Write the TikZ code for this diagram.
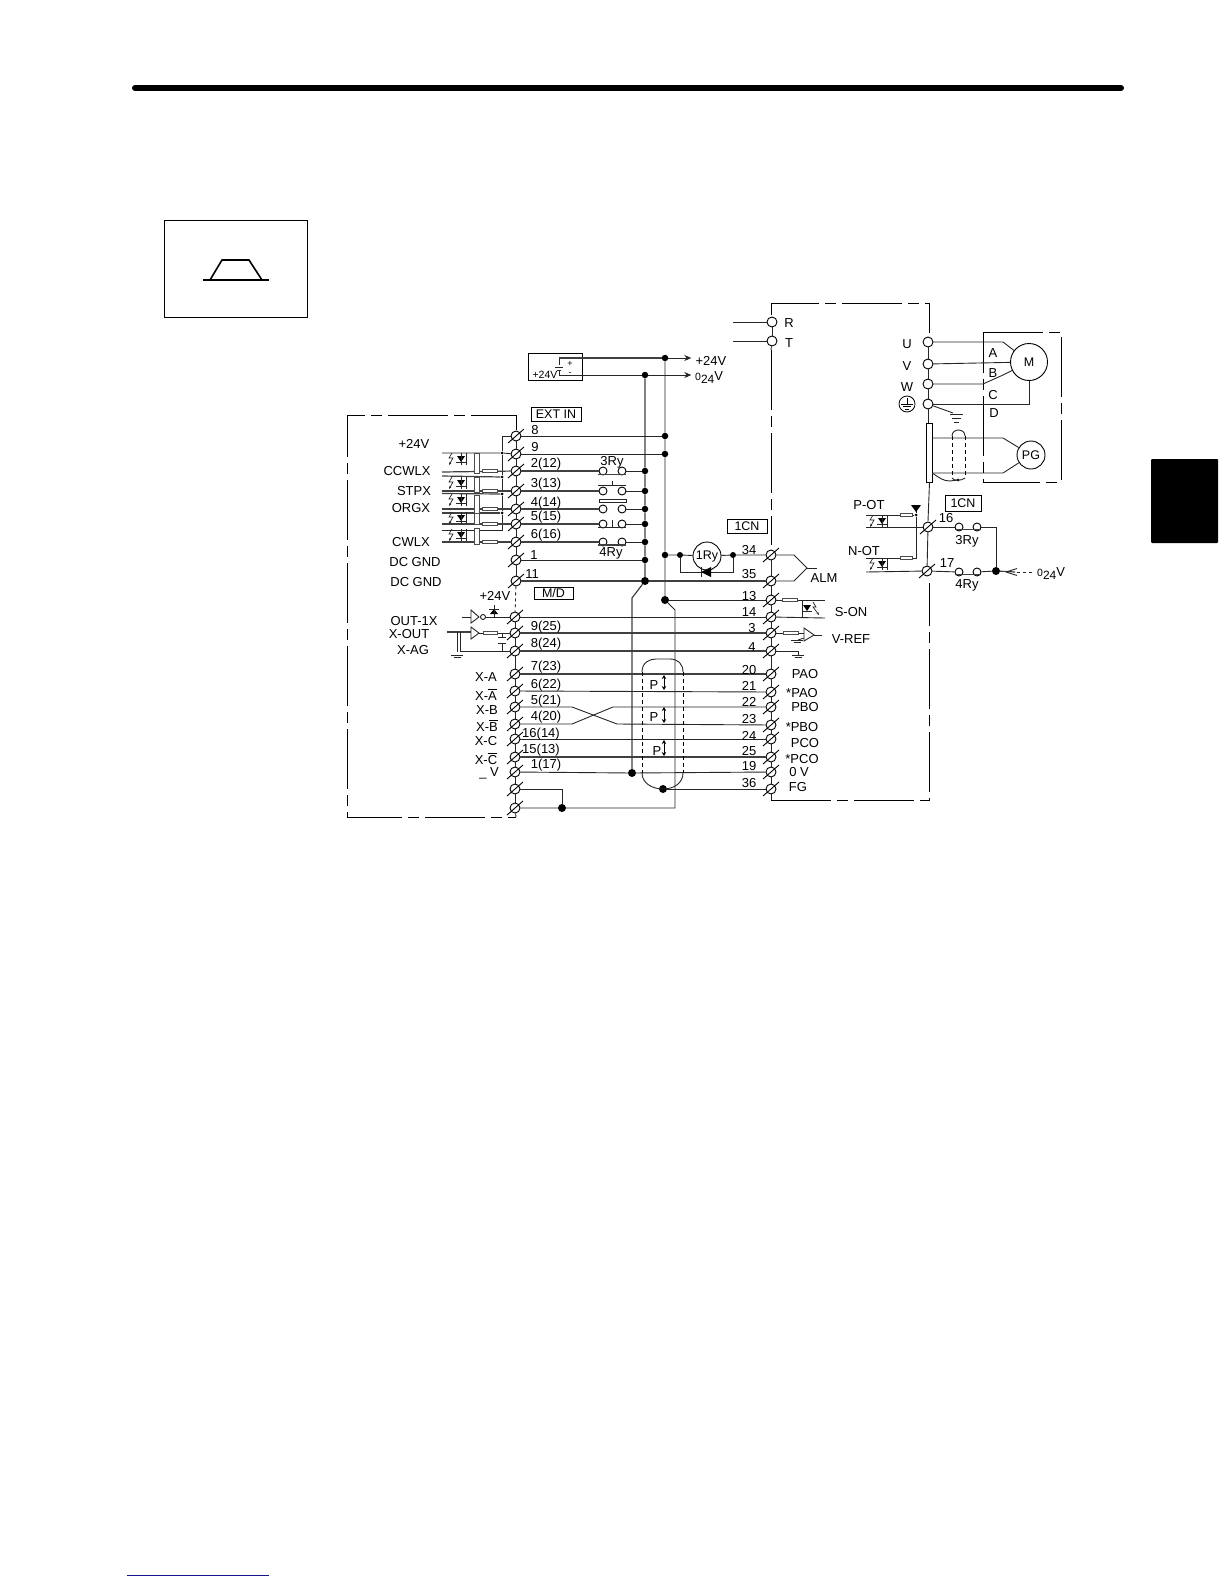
\documentclass[tikz,border=0pt]{standalone}
\usepackage{fontspec}
\setmainfont{Liberation Sans}
\usetikzlibrary{arrows.meta,calc}
\definecolor{navyline}{HTML}{14148C}
\newcounter{lbc}
\newcommand\lb[3]{\stepcounter{lbc}\node[lbl] (T\thelbc) at (#1,#2) {#3};}
\newcommand\nm[3]{\stepcounter{lbc}\node[num] (T\thelbc) at (#1,#2) {#3};}
\newcommand\trm[3]{\node[termn] (#1) at (#2,#3) {}; \draw[slash] (#2-8,#3+7) -- (#2+8,#3-7);}
\newcommand\ovl[1]{\leavevmode\vbox{\hrule height .9pt \kern 1.2pt\hbox{#1}}}
\newcommand\ozf{{\fontsize{10.5}{10.5}\selectfont 0}\raisebox{-3pt}{\fontsize{12}{12}\selectfont 24}V}
% opto-coupler: centre x,y ; #3 half height
\newcommand\pc[3]{\begin{scope}[shift={(#1,#2)}]
 \fill (-4,-3) -- (4,-3) -- (0,3) -- cycle;
 \draw[wire] (-5,3.5) -- (5,3.5);
 \draw[wire] (0,-#3) -- (0,#3);
 \draw[wire] (5,-#3) -- (5,#3);
 \draw[wire,line width=.7pt,-{Stealth[length=3pt]}] (-9,-6) -- (-12,-1) -- (-8,-1) -- (-12,6);
\end{scope}}
\newcommand\gnd[2]{\draw[wire] (#1-6,#2) -- (#1+6,#2) (#1-3.5,#2+2.5) -- (#1+3.5,#2+2.5);}
\tikzset{
 wire/.style={line width=.9pt,draw=black!85},
 hvy/.style={line width=1.2pt,draw=black!75},
 lbl/.style={font=\fontsize{13}{14}\selectfont,inner sep=0pt,text=black},
 num/.style={font=\fontsize{13}{14}\selectfont,inner sep=0pt,text=black},
 termn/.style={circle,draw=black,fill=white,line width=.9pt,minimum size=10pt,inner sep=0pt},
 slash/.style={line width=.9pt,draw=black},
 ring/.style={circle,draw=black,fill=white,line width=.9pt,minimum size=10pt,inner sep=0pt},
 jdot/.style={circle,fill=black,minimum size=6.5pt,inner sep=0pt},
 bigdot/.style={circle,fill=black,minimum size=8pt,inner sep=0pt},
 smalldot/.style={circle,fill=black,minimum size=3pt,inner sep=0pt},
 contactn/.style={circle,draw=black,fill=white,line width=.9pt,minimum size=8pt,inner sep=0pt},
 machine/.style={circle,draw=black,fill=white,line width=.9pt,inner sep=0pt,font=\fontsize{12.5}{13}\selectfont},
 boxed/.style={draw=black,line width=.9pt,inner sep=0pt,font=\fontsize{12.5}{13}\selectfont,minimum height=14pt},
 chain/.style={line width=.9pt,dash pattern=on 60pt off 6pt on 11pt off 6pt},
 res/.style={draw=black!70,fill=white,line width=.8pt},
 sdash/.style={line width=.8pt,dash pattern=on 4pt off 3pt},
 tip/.style={-{Stealth[length=7pt,width=6pt]}},
}
\begin{document}
\begin{tikzpicture}[x=1pt,y=-1pt]
\useasboundingbox (0,0) rectangle (1224,1584);
% page furniture
\draw[line width=6pt,line cap=round] (135,88) -- (1121,88);
\node[draw,line width=.9pt,minimum width=143pt,minimum height=97pt,inner sep=0pt] (iconbox) at (235.5,268.5) {};
\draw[line width=1.6pt] (203,280) -- (269,280);
\draw[line width=1.6pt] (210,280) -- (222,260) -- (249,260) -- (262,280);
\fill[rounded corners=1pt] (1151,459) rectangle (1218,543);
\draw[navyline,line width=1pt] (127,1575) -- (269,1575);
% dash-dot frames
\draw[chain] (516,430) -- (516,415) -- (347,415) -- (347,817) -- (516,817);
\draw[chain] (771,315) -- (771,303) -- (929,303) -- (929,333);
\draw[chain] (771,350) -- (771,545);
\draw[chain] (771,800) -- (929,800) -- (929,583);
\draw[chain] (983,332) -- (1061,332) -- (1061,482) -- (983,482) -- cycle;
% left terminals
\trm{LE}{516}{436}\trm{LN}{516}{454}\trm{LB}{516}{471}\trm{LC}{516}{491}\trm{LD}{516}{509}\trm{LF}{516}{524}\trm{LG}{516}{542}\trm{LA}{516}{560}\trm{LK}{516}{581}
\trm{LO}{515}{617}\trm{LP}{515}{633}\trm{LQ}{515}{651}\trm{LR}{515}{674}\trm{LS}{515}{691}\trm{LT}{515}{707}\trm{LU}{515}{724}\trm{LV}{515}{739}\trm{LW}{515}{757}\trm{LX}{515}{772}\trm{LY}{515}{789}\trm{LZ}{515}{808}
\foreach \a/\b in {LE/LN,LN/LB,LB/LC,LC/LD,LD/LF,LF/LG,LG/LA,LA/LK,LO/LP,LP/LQ,LQ/LR,LR/LS,LS/LT,LT/LU,LU/LV,LV/LW,LW/LX,LX/LY,LY/LZ}{\draw[wire] (\a) -- (\b);}
\draw[wire,dashed] (LK) -- (LO);
\draw[wire] (LZ) -- (516,817);
% right terminals
\trm{RA}{771}{555}\trm{RB}{771}{581}\trm{RC}{771}{600}\trm{RD}{771}{617}\trm{RE}{771}{633}\trm{RF}{771}{651}\trm{RG}{771}{674}\trm{RH}{771}{692}\trm{RI}{771}{707}\trm{RJ}{771}{725}\trm{RK}{771}{739}\trm{RL}{771}{757}\trm{RM}{771}{772}\trm{RN}{771}{789}
\foreach \a/\b in {RA/RB,RB/RC,RC/RD,RD/RE,RE/RF,RF/RG,RG/RH,RH/RI,RI/RJ,RJ/RK,RK/RL,RL/RM,RM/RN}{\draw[wire] (\a) -- (\b);}
\draw[wire] (RN) -- (771,800);
% buses
\node[jdot] (p24) at (665,358) {};
\node[jdot] (n24) at (645,375) {};
\node[jdot] (b8) at (665,436) {};
\node[jdot] (b9) at (665,454) {};
\node[jdot] (a2) at (645,471) {};
\node[jdot] (a3) at (645,491) {};
\node[jdot] (a4) at (645,509) {};
\node[jdot] (a5) at (645,524) {};
\node[jdot] (a6) at (645,542) {};
\node[jdot] (a1) at (645,560) {};
\node[bigdot] (a11) at (645,581) {};
\node[jdot] (b34) at (665,555) {};
\node[bigdot] (b13) at (665,600) {};
\node[bigdot] (dV) at (632,773) {};
\node[bigdot] (dF) at (663,789) {};
\node[bigdot] (dG) at (562,808) {};
\coordinate (k1) at (632,598);
\coordinate (k2) at (675,610);
\coordinate (k3) at (675,808);
\draw[hvy] (n24) -- (a2) -- (a3) -- (a4) -- (a5) -- (a6) -- (a1) -- (a11) -- (k1) -- (dV);
\draw[wire] (p24) -- (b8) -- (b9) -- (b34) -- (b13) -- (k2) -- (k3) -- (dG) -- (LZ);
% wires left to buses
\draw[wire] (LE) -- (b8);
\draw[wire] (LN) -- (b9);
\draw[wire] (LA) -- (a1);
\draw[hvy] (LK) -- (a11) -- (RB);
\draw[wire] (b13) -- (RC);
\draw[wire] (LO) -- (RD);
\draw[hvy] (LP) -- (RE);
\draw[hvy] (LQ) -- (RF);
\draw[hvy] (LR) -- (RG);
\draw[wire] (LS) -- (RH);
\draw[wire] (LT) -- (572,707) -- (617,724) -- (RJ);
\draw[wire] (LU) -- (572,724) -- (613,707) -- (RI);
\draw[wire] (LV) -- (RK);
\draw[hvy] (LW) -- (RL);
\draw[wire] (LX) -- (dV) -- (RM);
\draw[wire] (dF) -- (RN);
\draw[wire] (LY) -- (562,789) -- (dG);
% contacts
\foreach \t/\y/\d in {LB/471/a2,LC/491/a3,LD/509/a4,LF/524/a5,LG/542/a6}{
 \node[contactn] (\t x) at (603,\y) {};
 \node[contactn] (\t y) at (622,\y) {};
 \draw[hvy] (\t) -- (\t x);
 \draw[wire] (\t y) -- (\d);
}
\draw[hvy] (598,474.5) -- (626,474.5);
\draw[wire] (598,485) -- (626,485) (612,481) -- (612,485);
\draw[wire] (599,499) rectangle (626,502);
\draw[wire] (598,527) -- (626,527) (612,520) -- (612,527);
\draw[hvy] (598,545) -- (626,545);
% left couplers
\coordinate (g) at (502,436);
\node[smalldot] (g1) at (502,453) {};
\node[smalldot] (g2) at (502,477) {};
\node[smalldot] (g3) at (502,494) {};
\node[smalldot] (g4) at (502,513) {};
\draw[wire] (LE) -- (g) -- (g1) -- (g2) -- (g3) -- (g4) -- (502,530) -- (442,530);
\draw[wire] (442,453) -- (g1) -- (LN);
\draw[hvy] (442,476) -- (g2);
\draw[hvy] (442,493.5) -- (g3);
\draw[hvy] (442,513) -- (g4);
\draw[hvy] (442,472) -- (LB);
\draw[hvy] (442,491) -- (LC);
\draw[hvy] (442,509) -- (LD);
\draw[hvy] (442,524) -- (LF);
\draw[hvy] (442,542) -- (LG);
\foreach \yy/\hh in {459/6,483/6,500/6,518/6,535/6}{\pc{461}{\yy}{\hh}}
\foreach \ya/\yb in {453/473,477/492,495/515,513/524,528/544}{\draw[res] (474,\ya) rectangle (479,\yb);}
\foreach \yy in {471,491,509,524,542}{\draw[res] (482,\yy-1.3) rectangle (497,\yy+1.3);}
% left labels
\lb{414}{444}{+24V}\lb{407}{471}{CCWLX}\lb{414}{491}{STPX}\lb{411}{508}{ORGX}\lb{411}{542}{CWLX}\lb{415}{562}{DC GND}\lb{416}{582}{DC GND}
\lb{495}{596}{+24V}\lb{414}{621}{OUT-1X}\lb{409}{634}{X-OUT}\lb{413}{650}{X-AG}
\lb{486}{677}{X-A}\lb{486}{695}{X-\ovl{A}}\lb{487}{710}{X-B}\lb{487}{726}{X-\ovl{B}}\lb{486}{741}{X-C}\lb{486}{759}{X-\ovl{C}}\lb{489}{773}{\_ V}
\nm{535}{430}{8}\nm{535}{447}{9}\nm{546}{464}{2(12)}\nm{546}{484}{3(13)}\nm{546}{503}{4(14)}\nm{546}{517}{5(15)}\nm{546}{535}{6(16)}\nm{534}{555}{1}\nm{532}{574}{11}
\nm{546}{627}{9(25)}\nm{546}{644}{8(24)}\nm{546}{667}{7(23)}\nm{546}{685}{6(22)}\nm{546}{701}{5(21)}\nm{546}{717}{4(20)}\nm{541}{734}{16(14)}\nm{541}{750}{15(13)}\nm{546}{765}{1(17)}
\lb{612}{462}{3Ry}\lb{611}{553}{4Ry}
\node[boxed,minimum width=50pt] (extin) at (556,414.5) {EXT IN};
\node[boxed,minimum width=39pt,minimum height=12pt] (md) at (553.5,593) {M/D};
% outputs on left
\coordinate (o1) at (462,617);
\coordinate (o2) at (447,632);
\coordinate (o3) at (460,651);
\node[smalldot,fill=none,draw,line width=.8pt,minimum size=5pt] (bub) at (483,617) {};
\draw[wire] (o1) -- (471,617);
\draw[wire] (471,610) -- (479,617) -- (471,623) -- cycle;
\draw[wire] (bub) -- (LO);
\fill (490,614) -- (498,614) -- (494,609) -- cycle; \draw[wire] (489,609) -- (499,609) (494,605) -- (494,617);
\draw[hvy] (o2) -- (471,632);
\draw[wire] (471,627) -- (479,633) -- (471,639) -- cycle;
\draw[wire] (479,633) -- (LP);
\draw[res] (483,631.7) rectangle (497,634.3);
\draw[wire] (502,633) -- (502,637) (498,637) -- (506,637) (498,643) -- (506,643) (502,643) -- (502,651);
\draw[wire] (o3) -- (LQ);
\draw[wire] (457,632) -- (457,652) (460,632) -- (460,651);
\gnd{457}{655}
% top supply
\node[draw,line width=.9pt,minimum width=54pt,minimum height=27pt,inner sep=0pt] (sup) at (555,366.5) {};
\node[lbl,font=\fontsize{10.5}{11}\selectfont] (sv) at (545,375) {+24V};
\node[lbl,font=\fontsize{9}{9}\selectfont] (sp) at (570,364) {+};
\node[lbl,font=\fontsize{9}{9}\selectfont] (sm) at (570,374) {-};
\coordinate (s1) at (559,358);
\coordinate (s2) at (559,375);
\node[inner sep=0pt] (tp) at (692,358) {};
\node[inner sep=0pt] (tn) at (692,375) {};
\draw[wire] (s1) -- (559,365) (555,367) -- (563,367) (557,370) -- (561,370) (559,370) -- (559,375);
\draw[hvy] (s1) -- (p24);
\draw[wire,tip] (p24) -- (tp);
\draw[wire,tip] (s2) -- (n24) -- (tn);
\lb{711}{361}{+24V}
\node[lbl,anchor=west] (o24a) at (695,378) {\ozf};
% shield oval
\draw[wire] (642,672) .. controls (642,662) and (650,659) .. (656,659) -- (670,659) .. controls (678,659) and (683,664) .. (683,672);
\draw[sdash] (642,672) -- (642,773) (683,672) -- (683,773);
\draw[wire] (642,773) .. controls (642,783) and (652,789) .. (dF.center) .. controls (674,789) and (683,783) .. (683,773);
\foreach \yy/\aa/\bb/\xx in {685/675/690/654,717/707/723/654,751/740/756/657}{\draw[line width=.7pt,{Stealth[length=4pt,width=4.5pt]}-{Stealth[length=4pt,width=4.5pt]}] (664,\aa) -- (664,\bb); \lb{\xx}{\yy}{P}}
% 1Ry
\node[bigdot,minimum size=6pt] (ry1) at (680,555) {};
\node[bigdot,minimum size=6pt] (ry2) at (733,555) {};
\node[machine,minimum size=28pt] (ry) at (707,556) {1Ry};
\draw[wire] (b34) -- (ry1) -- (ry) -- (ry2) -- (RA);
\draw[wire] (ry1) -- (680,572) -- (733,572) -- (ry2);
\fill (701,572) -- (711,567) -- (711,577) -- cycle;
\draw[wire] (701,567) -- (701,577);
\node[boxed,minimum width=40pt] (cn1) at (747,526) {1CN};
\nm{749}{550}{34}\nm{749}{574}{35}\nm{749}{596}{13}\nm{749}{612}{14}\nm{752}{628}{3}\nm{752}{647}{4}\nm{749}{670}{20}\nm{749}{686}{21}\nm{749}{702}{22}\nm{749}{719}{23}\nm{749}{736}{24}\nm{749}{751}{25}\nm{749}{766}{19}\nm{749}{783}{36}
% ALM
\coordinate (alm) at (807,568);
\draw[wire] (RA) -- (794,555) -- (alm) -- (794,581) -- (RB);
\draw[wire] (alm) -- (817,568);
\lb{824}{578}{ALM}
% S-ON
\draw[wire] (RC) -- (825,600);
\draw[wire] (RD) -- (825,618);
\draw[res] (782,598.7) rectangle (797,601.3);
\begin{scope}[shift={(807,608)}]
 \draw[wire] (-5,-8) -- (-5,10);
 \fill (-4,-3) -- (4,-3) -- (0,3) -- cycle;
 \draw[wire] (-5,3.5) -- (5,3.5);
 \draw[wire,line width=.7pt,-{Stealth[length=3pt]}] (6,-6) -- (9,-1) -- (6,-1) -- (12,7);
\end{scope}
\lb{851}{612}{S-ON}
% V-REF
\draw[wire] (RE) -- (804,633);
\draw[res] (783,631.7) rectangle (798,634.3);
\draw[wire] (804,628) -- (814,635) -- (804,641) -- cycle;
\draw[wire] (814,635) -- (822,635);
\draw[wire] (804,638) -- (798,640);
\gnd{797}{640}
\lb{851}{639}{V-REF}
\draw[wire] (RF) -- (798,651) -- (798,655);
\gnd{798}{655}
\lb{805}{674}{PAO}\lb{802}{693}{*PAO}\lb{805}{707}{PBO}\lb{802}{727}{*PBO}\lb{805}{743}{PCO}\lb{802}{759}{*PCO}\lb{799}{772}{0 V}\lb{798}{787}{FG}
% power terminals
\node[ring] (tR) at (772,322) {};
\node[ring] (tT) at (772,341) {};
\coordinate (iR) at (733,322);
\coordinate (iT) at (733,341);
\draw[wire] (iR) -- (tR) -- (tT) (iT) -- (tT);
\draw[wire] (tT) -- (771,350);
\lb{789}{323}{R}\lb{789}{343}{T}
\node[ring] (tU) at (928,342) {};
\node[ring] (tV) at (928,364) {};
\node[ring] (tW) at (928,384) {};
\node[ring] (tE) at (928,404) {};
\draw[wire] (tU) -- (tV) -- (tW) -- (tE) -- (928,423);
\lb{907}{344}{U}\lb{907}{366}{V}\lb{907}{387}{W}
\node[circle,draw,line width=.8pt,minimum size=16pt,inner sep=0pt] (earth) at (907,404) {};
\draw[line width=.8pt] (907,398) -- (907,404) (901,404) -- (913,404) (903,406.5) -- (911,406.5) (905,409) -- (909,409);
\node[machine,minimum size=37pt] (M) at (1029,362) {M};
\node[machine,minimum size=28pt] (PG) at (1031,455) {PG};
\draw[wire] (tU) -- (1003,342) -- (M);
\draw[wire] (tV) -- (M);
\draw[wire] (tW) -- (983,384) -- (1003,375) -- (M);
\draw[wire] (tE) -- (1029,404) -- (M);
\draw[wire] (tE) -- (953,413);
\draw[wire] (950,414) -- (963,414) (952,418) -- (961,418) (954,422) -- (959,422);
\lb{993}{353}{A}\lb{993}{373}{B}\lb{993}{395}{C}\lb{994}{413}{D}
% PG connector
\node[draw,line width=.9pt,minimum width=5.5pt,minimum height=59pt,inner sep=0pt] (bar) at (929.5,452.5) {};
\draw[wire] (932,438) -- (1003,438) -- (PG);
\draw[wire] (932,473) -- (1003,473) -- (PG);
\draw[wire] (952,436) .. controls (952,428) and (965,428) .. (965,436);
\draw[sdash] (952,436) -- (952,478) (965,436) -- (965,478);
\draw[wire] (932,473) .. controls (940,478) and (943,481) .. (950,481) -- (958,480);
\node[smalldot] (sh) at (958,480) {};
\draw[wire] (952,478) .. controls (953,481) and (962,481) .. (965,478);
\draw[wire] (bar.south) -- (928,521);
% OT inputs
\trm{RP}{928}{527}\trm{RQ}{927}{571}
\draw[wire] (RP) -- (RQ);
\node[smalldot] (ot1) at (916,515) {};
\coordinate (ot0) at (916,505);
\draw[wire] (866,515) -- (ot1) -- (916,558) -- (866,558);
\draw[wire] (ot0) -- (ot1);
\fill (911,505) -- (921,505) -- (916,512) -- cycle;
\draw[wire] (866,527) -- (RP);
\draw[wire] (866,572) -- (RQ);
\draw[res] (900,513.7) rectangle (912,516.3);
\draw[res] (900,556.7) rectangle (912,559.3);
\pc{882}{521}{6}\pc{882}{564}{6}
\lb{869}{505}{P-OT}\lb{864}{551}{N-OT}
\node[boxed,minimum width=36pt,minimum height=16pt] (cn2) at (963,503) {1CN};
\nm{946}{518}{16}\nm{947}{563}{17}\lb{967}{541}{3Ry}\lb{967}{585}{4Ry}
\node[contactn] (c3a) at (959,527) {};
\node[contactn] (c3b) at (977,527) {};
\node[contactn] (c4a) at (959,572) {};
\node[contactn] (c4b) at (977,572) {};
\node[bigdot] (j0) at (996,571) {};
\coordinate (z0) at (1032,572);
\draw[wire] (RP) -- (c3a) (c3b) -- (996,527) -- (j0);
\draw[wire] (RQ) -- (c4a) (c4b) -- (j0);
\draw[hvy] (955,529.5) -- (981,529.5) (955,574.5) -- (981,574.5);
\draw[hvy] (j0) -- (1015,572);
\draw[wire] (1006,572) -- (1017,568.5) (1006,572) -- (1017,575.5);
\draw[wire,dashed] (1017,572) -- (z0);
\node[lbl,anchor=west] (o24b) at (1037,574) {\ozf};
\end{tikzpicture}
\end{document}
